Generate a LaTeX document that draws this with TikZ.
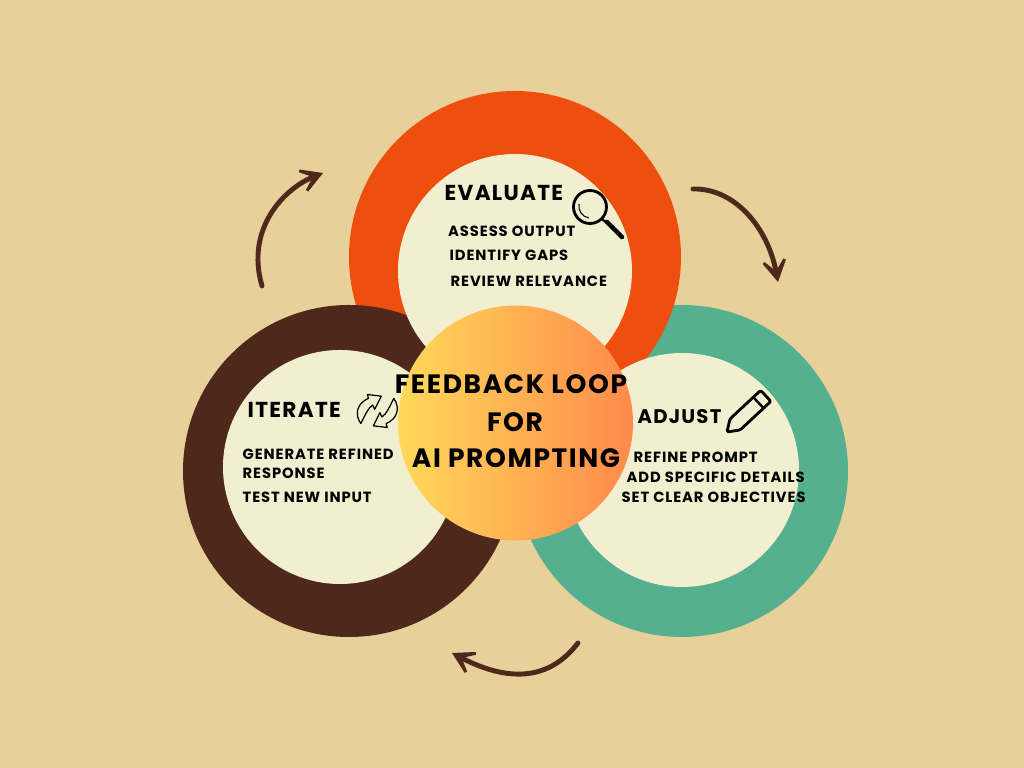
\documentclass[tikz,border=0pt]{standalone}
\usepackage{fontspec}
\setmainfont{Poppins}[LetterSpace=6]
\usetikzlibrary{arrows.meta}
\definecolor{sandbg}{HTML}{E8D09A}
\definecolor{ringorange}{HTML}{EE4E0E}
\definecolor{ringbrown}{HTML}{4E281B}
\definecolor{ringgreen}{HTML}{54B08F}
\definecolor{discream}{HTML}{F2EFD0}
\definecolor{hubyellow}{HTML}{FFD95A}
\definecolor{huborange}{HTML}{FF8A4C}
\tikzset{
  ring/.style={circle, minimum size=3.32cm, inner sep=0pt},
  disc/.style={circle, fill=discream, minimum size=2.34cm, inner sep=0pt},
  heading/.style={anchor=west, inner sep=0pt, font=\fontsize{6.15}{8}\selectfont\bfseries, text=black},
  item/.style={anchor=west, inner sep=0pt, font=\fontsize{4.2}{6}\selectfont\bfseries, text=black},
  title/.style={inner sep=0pt, font=\fontsize{7.55}{9}\selectfont\bfseries, text=black},
  flow/.style={ringbrown, line width=1.4pt, line cap=round, -{Stealth[length=0.33cm, width=0.38cm, inset=0.22cm]}}
}
\begin{document}
\begin{tikzpicture}[x=1cm, y=1cm]
    \fill[sandbg] (0, 0) rectangle (10.24, 7.68);

    % Rings
    \node[ring, fill=ringgreen] (adjustring) at (6.82, 2.97) {};
    \node[ring, fill=ringorange] (evalring) at (5.15, 5.11) {};
    \node[ring, fill=ringbrown] (iterring) at (3.49, 2.97) {};

    \node[disc] (evaldisc) at (5.15, 4.97) {};
    \node[disc] (iterdisc) at (3.40, 3.01) {};
    \node[disc] (adjustdisc) at (6.82, 2.98) {};

    % Hub
    \node[circle, minimum size=2.35cm, inner sep=0pt, left color=hubyellow, right color=huborange] (hub) at (5.155, 3.45) {};
    \node[title] (hubone) at (5.11, 3.84) {FEEDBACK LOOP};
    \node[title] (hubtwo) at (5.15, 3.46) {FOR};
    \node[title] (hubthree) at (5.16, 3.10) {AI PROMPTING};

    % Evaluate
    \node[heading] (evalhead) at (4.44, 5.75) {EVALUATE};
    \node[item] (evalone) at (4.475, 5.37) {ASSESS OUTPUT};
    \node[item] (evaltwo) at (4.49, 5.13) {IDENTIFY GAPS};
    \node[item] (evalthree) at (4.50, 4.87) {REVIEW RELEVANCE};

    % Iterate
    \node[heading] (iterhead) at (2.47, 3.58) {ITERATE};
    \node[item] (iterone) at (2.42, 3.14) {GENERATE REFINED};
    \node[item] (itertwo) at (2.42, 2.95) {RESPONSE};
    \node[item] (iterthree) at (2.42, 2.71) {TEST NEW INPUT};

    % Adjust
    \node[heading, font=\fontsize{5.6}{8}\selectfont\bfseries] (adjusthead) at (6.37, 3.51) {ADJUST};
    \node[item] (adjustone) at (6.33, 3.11) {REFINE PROMPT};
    \node[item] (adjusttwo) at (6.26, 2.91) {ADD SPECIFIC DETAILS};
    \node[item] (adjustthree) at (6.21, 2.71) {SET CLEAR OBJECTIVES};

    % Magnifier
    \node[circle, draw=black, line width=0.8pt, minimum size=0.33cm, inner sep=0pt] (lens) at (5.90, 5.61) {};
    \draw[black, line width=0.3pt] (5.79, 5.64) arc (170:260:0.12);
    \draw[black, line width=0.6pt] (lens.-45) -- (6.08, 5.44);
    \draw[black, line width=1.3pt, line cap=round] (6.07, 5.46) -- (6.22, 5.31);

    % Pencil
    \begin{scope}[shift={(7.27, 3.36)}, rotate=43]
        \draw[black, line width=0.8pt, line join=round, rounded corners=0.4pt] (0, 0) -- (0.11, 0.075) -- (0.53, 0.075) -- (0.53, -0.075) -- (0.11, -0.075) -- cycle;
        \draw[black, line width=0.7pt] (0.43, 0.075) -- (0.43, -0.075);
    \end{scope}

    % Refresh
    \foreach \ang in {0, 180} {
        \draw[shift={(3.773, 3.57)}, rotate=\ang, x=0.0033cm, y=0.0033cm, black, line width=0.35pt, line join=round]
            (-50, -38) .. controls (-72, -8) and (-58, 26) .. (-27, 38) -- (-30, 50) -- (12, 45) -- (-8, 5) -- (-14, 18)
            .. controls (-26, 12) and (-38, -14) .. cycle;
    }

    % Cycle arrows
    \coordinate (flowastart) at (2.62, 4.82);
    \coordinate (flowaend) at (3.23, 5.95);
    \coordinate (flowbstart) at (6.93, 5.79);
    \coordinate (flowbend) at (7.78, 4.86);
    \coordinate (flowcstart) at (5.78, 1.25);
    \coordinate (flowcend) at (4.52, 1.15);
    \draw[flow] (flowastart) .. controls (2.45, 5.40) and (2.85, 5.80) .. (flowaend);
    \draw[flow] (flowbstart) .. controls (7.35, 5.80) and (7.68, 5.40) .. (flowbend);
    \draw[flow] (flowcstart) .. controls (5.45, 0.82) and (5.00, 0.90) .. (flowcend);
\end{tikzpicture}
\end{document}
